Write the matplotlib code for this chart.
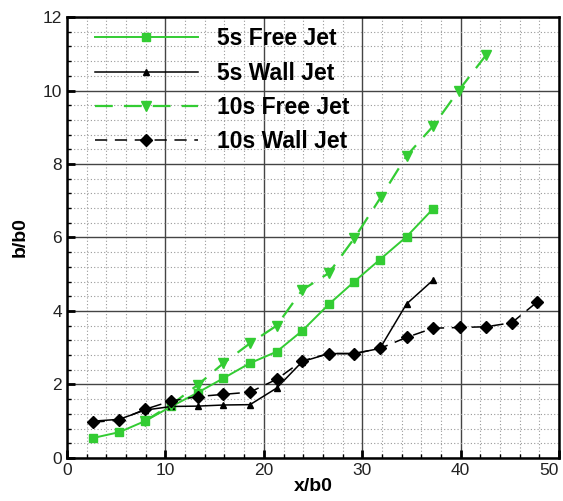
import numpy as np
import matplotlib.pyplot as plt
from matplotlib.ticker import MultipleLocator

# x/b0 positions and b/b0 values
x_5s_free = [2.6, 5.3, 7.9, 10.6, 13.3, 15.9, 18.6, 21.3, 23.9, 26.6, 29.2, 31.8, 34.5, 37.2]
y_5s_free = [0.54, 0.70, 1.0, 1.40, 1.78, 2.17, 2.58, 2.89, 3.46, 4.18, 4.80, 5.40, 6.02, 6.78]

x_5s_wall = [2.6, 5.3, 7.9, 10.6, 13.3, 15.9, 18.6, 21.3, 23.9, 26.6, 29.2, 31.8, 34.5, 37.2]
y_5s_wall = [1.0, 1.05, 1.3, 1.40, 1.41, 1.44, 1.45, 1.90, 2.62, 2.84, 2.84, 2.98, 4.19, 4.84]

x_10s_free = [7.9, 10.6, 13.3, 15.9, 18.6, 21.3, 23.9, 26.6, 29.2, 31.9, 34.5, 37.2, 39.8, 42.6]
y_10s_free = [1.0, 1.45, 1.99, 2.58, 3.12, 3.60, 4.57, 5.03, 5.98, 7.10, 8.22, 9.03, 10.0, 10.97]

x_10s_wall = [2.6, 5.3, 7.9, 10.6, 13.3, 15.9, 18.6, 21.3, 23.9, 26.6, 29.2, 31.8, 34.5,
              37.2, 39.9, 42.6, 45.2, 47.8]
y_10s_wall = [0.97, 1.03, 1.32, 1.55, 1.67, 1.73, 1.79, 2.14, 2.64, 2.84, 2.84, 2.98, 3.28,
              3.53, 3.55, 3.57, 3.68, 4.25]

x_ticks = [0, 10, 20, 30, 40, 50]

green = '#33cc33'

plt.rcParams['font.family'] = ['Liberation Sans', 'DejaVu Sans']

fig = plt.figure(figsize=(5.63, 5.01), dpi=100)
ax = fig.add_axes([0.119, 0.086, 0.874, 0.880])

ax.plot(x_5s_free, y_5s_free, color=green, lw=1.4, marker='s', ms=5.5,
        label='5s Free Jet')
ax.plot(x_5s_wall, y_5s_wall, color='black', lw=1.1, marker='^', ms=5,
        label='5s Wall Jet')
ax.plot(x_10s_free, y_10s_free, color=green, lw=1.6, marker='v', ms=7,
        dashes=(8, 5), label='10s Free Jet')
ax.plot(x_10s_wall, y_10s_wall, color='black', lw=1.1, marker='D', ms=6,
        dashes=(8, 5), label='10s Wall Jet')

ax.set_xlim(0, 50)
ax.set_ylim(0, 12)
ax.set_xticks(x_ticks)
ax.set_xticklabels([str(t) for t in x_ticks])
ax.get_xticklabels()[-1].set_horizontalalignment('right')
ax.xaxis.set_minor_locator(MultipleLocator(2))
ax.yaxis.set_major_locator(MultipleLocator(2))
ax.yaxis.set_minor_locator(MultipleLocator(0.4))

ax.grid(which='major', color='#444444', lw=1.0, ls='-')
ax.grid(which='minor', color='#999999', lw=0.8, ls=(0, (1, 2)))
ax.set_axisbelow(True)

ax.tick_params(which='both', direction='in', top=False, right=False)
ax.tick_params(which='major', length=6, width=2, labelsize=12.5, colors='black',
               labelcolor='#222222')
ax.tick_params(which='minor', length=3, width=1)
for s in ax.spines.values():
    s.set_linewidth(1.8)

ax.set_xlabel('x/b0', fontsize=14, fontweight='bold', labelpad=0)
ax.set_ylabel('b/b0', fontsize=14, fontweight='bold', labelpad=10)

ax.legend(loc='upper left', frameon=False, numpoints=1,
          handlelength=4.5, handletextpad=0.85, labelspacing=0.5,
          prop={'size': 16.5, 'weight': 'bold'},
          bbox_to_anchor=(0.014, 1.024))

fig.savefig('out.png', dpi=100)
